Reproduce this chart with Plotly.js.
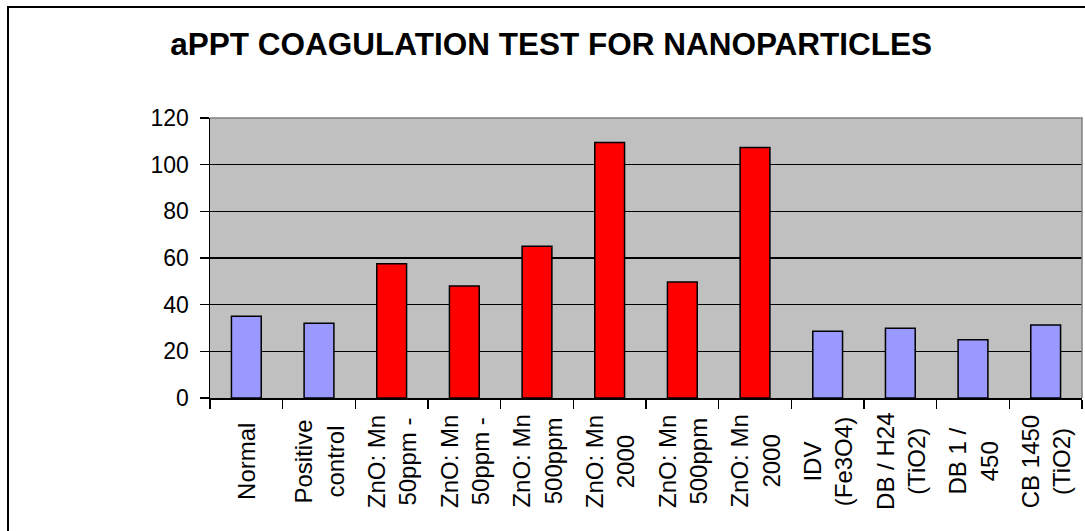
<!DOCTYPE html>
<html>
<head>
<meta charset="utf-8">
<script src="https://cdn.plot.ly/plotly-3.0.1.min.js"></script>
<style>
  html, body { margin: 0; padding: 0; background: #fff; overflow: hidden; }
  #wrap { position: relative; width: 1085px; height: 531px; }
  #chart { width: 1085px; height: 531px; }
  #frame { position: absolute; left: 7px; top: 6px; width: 2000px; height: 2000px;
           border-left: 2px solid #000; border-top: 2px solid #000; pointer-events: none; }
</style>
</head>
<body>
<div id="wrap"><div id="chart"></div><div id="frame"></div></div>
<script>
// ---- data ----
const chartTitle = 'aPPT COAGULATION TEST FOR NANOPARTICLES';
const categories = [
  'Normal', 'Positive<br>control', 'ZnO: Mn<br>50ppm -', 'ZnO: Mn<br>50ppm -',
  'ZnO: Mn<br>500ppm', 'ZnO: Mn<br>2000', 'ZnO: Mn<br>500ppm', 'ZnO: Mn<br>2000',
  'IDV<br>(Fe3O4)', 'DB / H24<br>(TiO2)', 'DB 1 /<br>450', 'CB 1450<br>(TiO2)'
];
const values = [35, 32, 57.5, 48, 65, 109.5, 49.7, 107.4, 28.6, 29.9, 25, 31.3];
const groups = ['control', 'control', 'ZnO', 'ZnO', 'ZnO', 'ZnO', 'ZnO', 'ZnO',
                'control', 'control', 'control', 'control'];
const yTicks = [0, 20, 40, 60, 80, 100, 120];

// ---- styling ----
const groupColors = { control: '#9999FF', ZnO: '#FF0000' };
const FONT = 'Liberation Sans, Arial, sans-serif';
const idx = categories.map((_, i) => i);
const bounds = categories.map((_, i) => i - 0.5).concat([categories.length - 0.5]);

const trace = {
  type: 'bar',
  x: idx,
  y: values,
  marker: {
    color: groups.map(g => groupColors[g]),
    line: { color: '#000', width: 1.5 }
  },
  width: 0.41,
  hoverinfo: 'x+y'
};

// category labels: rotated, lines centred, block centred below the axis
const labelAnnotations = categories.map((c, i) => ({
  text: c,
  x: i, xref: 'x', xanchor: 'center',
  y: -0.227, yref: 'paper', yanchor: 'middle',
  textangle: -90,
  align: 'center',
  showarrow: false,
  font: { family: FONT, size: 24, color: '#000' }
}));

const layout = {
  width: 1085,
  height: 531,
  margin: { l: 210, r: 3, t: 118, b: 133 },
  paper_bgcolor: '#FFFFFF',
  plot_bgcolor: '#C0C0C0',
  showlegend: false,
  font: { family: FONT, color: '#000', size: 23 },
  title: {
    text: '<b>' + chartTitle + '</b>',
    font: { family: FONT, size: 31.5, color: '#000' },
    xref: 'container', x: 0.508, xanchor: 'center',
    yref: 'container', y: 1 - 44 / 531, yanchor: 'middle'
  },
  xaxis: {
    range: [-0.5, categories.length - 0.5],
    tickmode: 'array',
    tickvals: idx,
    showticklabels: false,
    ticks: '',
    showgrid: false,
    zeroline: false,
    showline: true,
    linecolor: '#000',
    linewidth: 1.5,
    minor: {
      tickmode: 'array',
      tickvals: bounds,
      ticks: 'outside',
      ticklen: 9,
      tickwidth: 1.5,
      tickcolor: '#000',
      showgrid: false
    },
    fixedrange: true
  },
  yaxis: {
    range: [0, 120],
    tickmode: 'array',
    tickvals: yTicks,
    ticks: 'outside',
    ticklen: 9,
    tickwidth: 1.5,
    tickcolor: '#000',
    showgrid: true,
    gridcolor: '#000',
    gridwidth: 1.5,
    zeroline: false,
    showline: true,
    linecolor: '#000',
    linewidth: 1.5,
    tickfont: { family: FONT, size: 23, color: '#000' },
    ticklabelstandoff: 6,
    fixedrange: true
  },
  annotations: labelAnnotations,
  shapes: [
    {
      type: 'path', xref: 'paper', yref: 'paper',
      path: 'M 0 1 L 1 1 L 1 0',
      line: { color: '#808080', width: 1.5 },
      layer: 'above'
    }
  ]
};

Plotly.newPlot('chart', [trace], layout, { displayModeBar: false, staticPlot: true });
</script>
</body>
</html>
